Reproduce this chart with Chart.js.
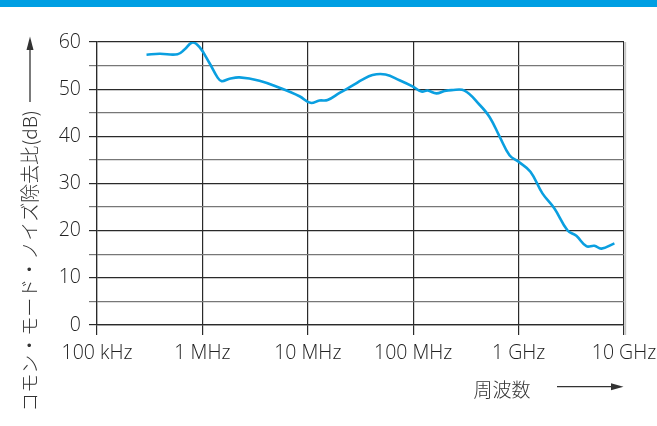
<!DOCTYPE html>
<html>
<head>
<meta charset="utf-8">
<script src="https://cdn.jsdelivr.net/npm/chart.js@4"></script>
<style>
  html, body { margin: 0; padding: 0; background: #fff; }
  #wrap { width: 657px; height: 426px; position: relative; }
</style>
</head>
<body>
<div id="wrap"><canvas id="cmrr"></canvas></div>
<script>
// CMRR vs frequency (frequency in MHz, log axis)
const freqMHz = [
    0.295, 0.392, 0.581, 0.676, 0.805, 0.94, 1.17, 1.39, 1.52, 1.81,
    2.25, 3.48, 5.39, 8.34, 10.6, 12.9, 15.4, 20.0, 27.7, 32.3,
    41.1, 54.6, 74.1, 98.5, 120, 137, 166, 198, 231, 307,
    426, 530, 659, 820, 1000, 1295, 1683, 2188, 2904, 3532,
    4395, 5236, 6109, 8110
];
const cmrrDb = [
    57.3, 57.5, 57.4, 58.4, 59.9, 58.9, 55.5, 52.5, 51.7, 52.2,
    52.5, 51.8, 50.3, 48.5, 47.1, 47.6, 47.7, 49.2, 51.0, 51.9,
    53.0, 53.1, 51.9, 50.6, 49.5, 49.7, 49.1, 49.6, 49.8, 49.7,
    46.7, 44.1, 40.0, 36.0, 34.6, 32.5, 27.9, 24.7, 20.1, 18.9,
    16.7, 16.8, 16.2, 17.3
];
const freqTicks = [0.1, 1, 10, 100, 1000, 10000];
const freqTickLabels = ['100 kHz', '1 MHz', '10 MHz', '100 MHz', '1 GHz', '10 GHz'];
const yAxisTitle = 'コモン・モード・ノイズ除去比(dB)';
const xAxisTitle = '周波数';

const LABEL_FONT = { family: '"Open Sans", "Noto Sans", sans-serif', size: 19.5, weight: '300' };
const JP_FONT = '300 19px "Noto Sans CJK JP", sans-serif';

// header strip, axis titles and their arrows
const decorations = {
    id: 'decorations',
    beforeDraw(chart) {
        const ctx = chart.ctx;
        ctx.save();
        ctx.fillStyle = '#009fe3';
        ctx.fillRect(0, 0, chart.width, 7);
        ctx.restore();
    },
    afterDraw(chart) {
        const ctx = chart.ctx;
        const area = chart.chartArea;
        ctx.save();
        ctx.fillStyle = '#333';
        ctx.lineWidth = 1.3;

        // soft edge on the right frame
        ctx.strokeStyle = '#c4c4c4';
        ctx.beginPath();
        ctx.moveTo(area.right + 1.5, area.top);
        ctx.lineTo(area.right + 1.5, area.bottom + 10);
        ctx.stroke();
        ctx.strokeStyle = '#333';

        // vertical title
        ctx.save();
        ctx.translate(30, 261);
        ctx.rotate(-Math.PI / 2);
        ctx.font = JP_FONT;
        ctx.textAlign = 'center';
        ctx.textBaseline = 'middle';
        ctx.fillText(yAxisTitle, 0, 0);
        ctx.restore();

        // up arrow
        ctx.beginPath();
        ctx.moveTo(30, 102);
        ctx.lineTo(30, 48);
        ctx.stroke();
        ctx.beginPath();
        ctx.moveTo(30, 36.5);
        ctx.lineTo(33.5, 50);
        ctx.lineTo(26.5, 50);
        ctx.closePath();
        ctx.fill();

        // horizontal title
        ctx.font = JP_FONT;
        ctx.textAlign = 'center';
        ctx.textBaseline = 'middle';
        ctx.fillText(xAxisTitle, 502, 390);

        // right arrow
        ctx.beginPath();
        ctx.moveTo(557, 386.7);
        ctx.lineTo(613, 386.7);
        ctx.stroke();
        ctx.beginPath();
        ctx.moveTo(623.5, 386.7);
        ctx.lineTo(611, 383.2);
        ctx.lineTo(611, 390.2);
        ctx.closePath();
        ctx.fill();
        ctx.restore();
    }
};

new Chart(document.getElementById('cmrr'), {
    type: 'line',
    data: {
        datasets: [{
            data: freqMHz.map((f, i) => ({ x: f, y: cmrrDb[i] })),
            borderColor: '#0a9fe0',
            borderWidth: 2.6,
            pointRadius: 0,
            tension: 0.4,
            fill: false
        }]
    },
    options: {
        responsive: true,
        maintainAspectRatio: false,
        animation: false,
        devicePixelRatio: 1,
        layout: { padding: { top: 42, right: 33, left: 0, bottom: 0 } },
        plugins: { legend: { display: false }, tooltip: { enabled: false } },
        scales: {
            x: {
                type: 'logarithmic',
                min: 0.1,
                max: 10000,
                afterBuildTicks: s => { s.ticks = freqTicks.map(v => ({ value: v })); },
                afterFit: s => {
                    s.height = 101;
                    // let the end labels hang over the padding
                    s.paddingLeft = 0;
                    s.paddingRight = 0;
                },
                ticks: {
                    autoSkip: false,
                    maxRotation: 0,
                    padding: 7,
                    color: '#222',
                    font: LABEL_FONT,
                    callback: (v, i) => freqTickLabels[i]
                },
                grid: { color: '#2a2a2a', lineWidth: 1.2, tickLength: 10 },
                border: { color: '#2a2a2a', width: 1.2 }
            },
            y: {
                min: 0,
                max: 60,
                afterFit: s => { s.width = 97; },
                ticks: {
                    stepSize: 5,
                    autoSkip: false,
                    padding: 8,
                    color: '#222',
                    font: LABEL_FONT,
                    callback: v => (v % 10 === 0 ? v : '')
                },
                grid: {
                    color: c => (c.tick && c.tick.value % 10 === 0 ? '#2a2a2a' : '#777'),
                    lineWidth: 1.2,
                    tickLength: 8
                },
                border: { color: '#2a2a2a', width: 1.2 }
            }
        }
    },
    plugins: [decorations]
});
</script>
</body>
</html>
